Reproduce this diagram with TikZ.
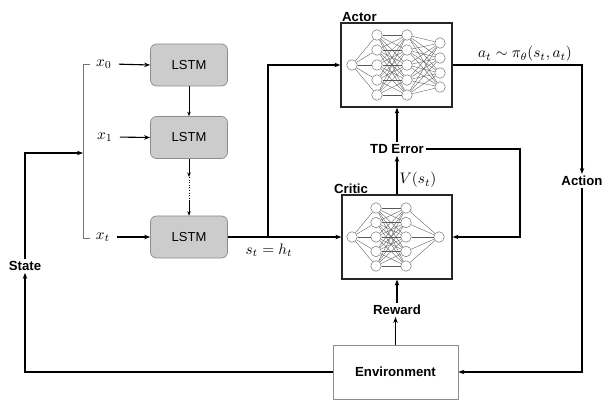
\documentclass[tikz,border=0pt]{standalone}
\usepackage{fontspec}
\usepackage{graphicx}
\setsansfont{Liberation Sans}
\usetikzlibrary{arrows.meta,positioning,calc}
% math labels, enlarged
\newcommand{\mlab}[1]{\scalebox{1.52}{$#1$}}
\begin{document}
\begin{tikzpicture}[x=1pt,y=-1pt,
  lbl/.style={font=\sffamily\bfseries\fontsize{13.2}{15}\selectfont, inner sep=2pt},
  mth/.style={inner sep=1pt},
  lstm/.style={draw=black!45, fill=black!20, rounded corners=6pt, line width=0.7pt,
    minimum width=77pt, minimum height=42pt, font=\sffamily\fontsize{13}{15}\selectfont},
  netbox/.style={draw=black!85, fill=white, line width=1.2pt},
  envbox/.style={draw=black!45, fill=white, line width=0.7pt, minimum width=125pt,
    minimum height=54pt, font=\sffamily\bfseries\fontsize{13.2}{15}\selectfont},
  neuron/.style={circle, draw=black!55, fill=white, minimum size=10.5pt, inner sep=0pt, line width=0.5pt},
  wire/.style={draw=black!65, line width=0.35pt},
  conn/.style={line width=1.3pt, -{Stealth[length=6pt,width=4.5pt]}},
  plain/.style={line width=1.3pt},
  thin/.style={line width=0.6pt, -{Stealth[length=4.5pt,width=3.5pt]}},
  brk/.style={draw=black!55, line width=0.8pt}
]
\useasboundingbox (0,0) rectangle (603,401);

% ---------- LSTM chain ----------
\node[lstm] (l0) at (189,65) {LSTM};
\node[lstm] (l1) at (189,137.5) {LSTM};
\node[lstm] (l2) at (189,237) {LSTM};
\node[mth] (x0) at (104,64) {\mlab{x_0}};
\node[mth] (x1) at (105,137) {\mlab{x_1}};
\node[mth] (xt) at (103,237) {\mlab{x_t}};
\foreach \x/\l in {x0/l0,x1/l1,xt/l2}
  \draw[conn, line width=1.1pt, shorten <=6pt] (\x.east) -- (\l.west);
\draw[thin] (l0.south) -- (l1.north);
\coordinate (d1) at (189,177);
\coordinate (d2) at (189,200);
\draw[thin] (l1.south) -- (d1);
\draw[line width=0.6pt, dotted] (d1) -- (d2);
\draw[thin] (d2) -- (l2.north);

% bracket gathering the inputs
\coordinate (bt) at (90,64);
\coordinate (bb) at (90,238);
\coordinate (bm) at (83,153);
\draw[brk] (bt) -- (83,64) -- (83,238) -- (bb);

% ---------- Actor ----------
\node[netbox, minimum width=111pt, minimum height=84pt] (actor) at (396.5,65) {};
\node[lbl, anchor=south west, inner sep=1pt] (actorlbl) at (341,23) {Actor};
\node[neuron] (a1-1) at (352,65) {};
\foreach \i/\y in {1/35,2/50,3/65,4/80,5/95} {
  \node[neuron] (a2-\i) at (377,\y) {};
  \node[neuron] (a3-\i) at (407,\y) {};
}
\foreach \i/\y in {1/43,2/58,3/73,4/87}
  \node[neuron] (a4-\i) at (440,\y) {};
\foreach \i in {1,...,5} \draw[wire] (a1-1) -- (a2-\i);
\foreach \i in {1,...,5} \foreach \j in {1,...,5} \draw[wire] (a2-\i) -- (a3-\j);
\foreach \i in {1,...,5} \foreach \j in {1,...,4} \draw[wire] (a3-\i) -- (a4-\j);

% ---------- Critic ----------
\node[netbox, minimum width=110pt, minimum height=84pt] (critic) at (397,237) {};
\node[lbl, anchor=south west, inner sep=1pt] (criticlbl) at (333,195) {Critic};
\node[neuron] (c1-1) at (352,237) {};
\foreach \i/\y in {1/208,2/222.5,3/237,4/251.5,5/266} {
  \node[neuron] (c2-\i) at (376,\y) {};
  \node[neuron] (c3-\i) at (406,\y) {};
}
\node[neuron] (c4-1) at (439,237) {};
\foreach \i in {1,...,5} \draw[wire] (c1-1) -- (c2-\i);
\foreach \i in {1,...,5} \foreach \j in {1,...,5} \draw[wire] (c2-\i) -- (c3-\j);
\foreach \i in {1,...,5} \draw[wire] (c3-\i) -- (c4-1);

% ---------- labels ----------
\node[lbl] (td) at (397,149) {TD Error};
\node[mth] (vs) at (418,180) {\mlab{V(s_t)}};
\node[lbl] (reward) at (397,310) {Reward};
\node[lbl] (action) at (582,181) {Action};
\node[lbl] (state) at (25,266) {State};
\node[envbox] (env) at (395.5,372) {Environment};
\node[mth] (pol) at (525,54) {\mlab{a_t \sim \pi_\theta(s_t,a_t)}};
\node[mth] (st) at (269,250) {\mlab{s_t = h_t}};

% ---------- connectors ----------
\coordinate (split) at (268,237);
\draw[plain] (l2.east) -- (split);
\draw[conn] (split) -- (critic.west);
\draw[conn] (split) |- (actor.west);

\draw[conn] (critic.north -| td.south) -- (td.south);
\draw[conn] (td.north) -- (actor.south -| td.north);
\draw[conn] (td.east) -- (520,149) |- (critic.east);

\draw[conn] (actor.east) -| (action.north);
\draw[conn] (action.south) |- (env.east);

\draw[conn] (env.north) -- (env.north |- reward.south);
\draw[conn] (reward.north) -- (critic.south -| reward.north);

\draw[conn] (env.west) -| (state.south);
\draw[conn] (state.north) |- (bm);
\end{tikzpicture}
\end{document}
